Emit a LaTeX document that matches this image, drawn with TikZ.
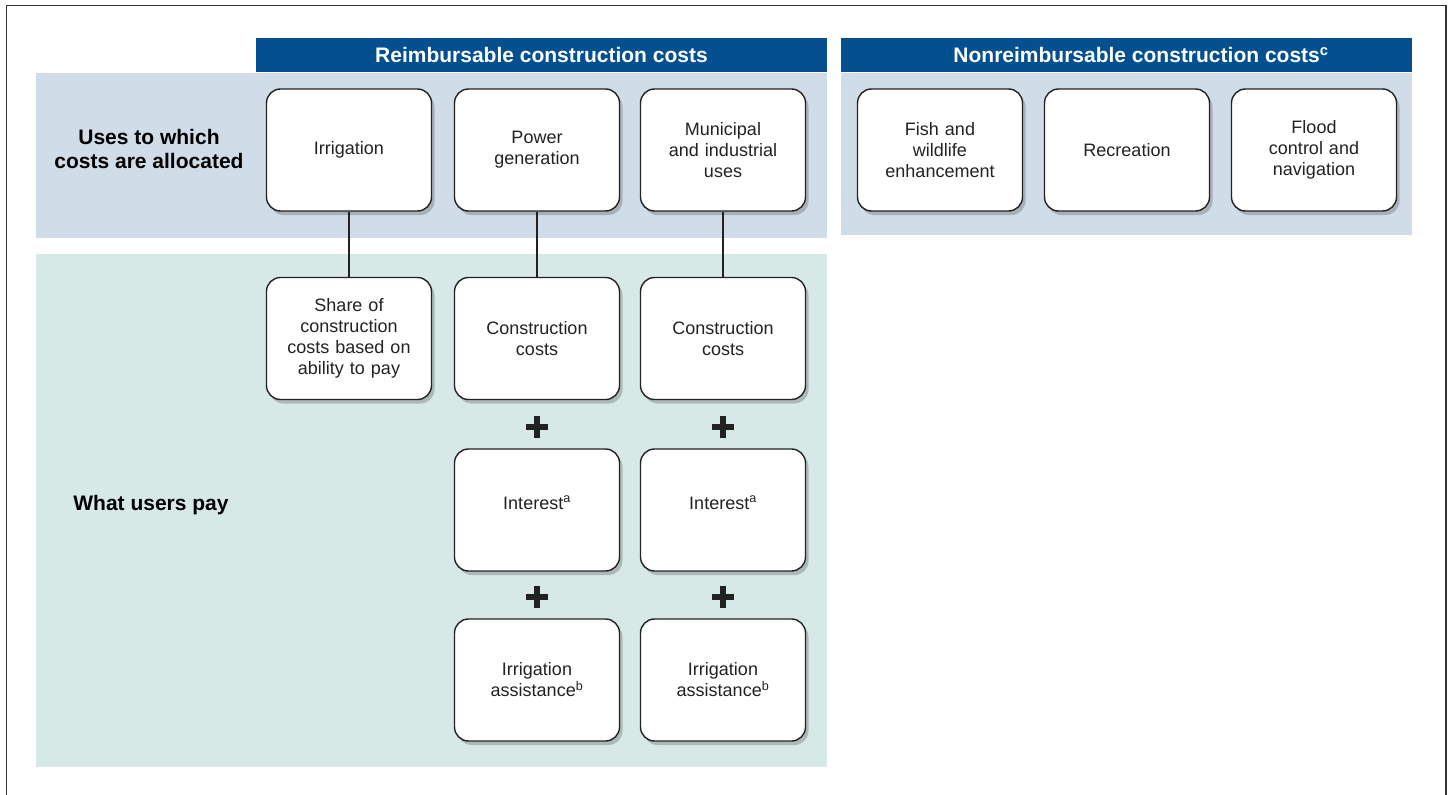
\documentclass[tikz,border=0pt]{standalone}
\usepackage{fontspec}
\setmainfont{Liberation Sans}
\usetikzlibrary{shadows}
\definecolor{headblue}{HTML}{034F8F}
\definecolor{bandblue}{HTML}{D0DCE8}
\definecolor{bandgreen}{HTML}{D6E9E7}
\definecolor{edge}{HTML}{222222}
\tikzset{
  costbox/.style={draw=edge, line width=1.4pt, fill=white, rounded corners=14pt,
    minimum width=165pt, minimum height=122pt, text width=152pt, align=center,
    text=edge, font=\fontsize{18}{21}\selectfont,
    drop shadow={shadow xshift=3pt, shadow yshift=-4pt, opacity=.3, fill=black!70}},
  header/.style={fill=headblue, text=white, minimum height=34pt,
    inner sep=0pt, font=\fontsize{21}{24}\selectfont\bfseries},
  rowlabel/.style={align=center, font=\fontsize{21}{24}\selectfont\bfseries},
  plussign/.style={minimum size=22pt, inner sep=0pt,
    path picture={\draw[line width=5.8pt, edge]
      (path picture bounding box.west) -- (path picture bounding box.east)
      (path picture bounding box.north) -- (path picture bounding box.south);}},
  link/.style={line width=1.8pt, edge}
}
\begin{document}
\begin{tikzpicture}[x=1pt, y=-1pt]
\useasboundingbox (0,0) rectangle (1449,795);
% frame
\draw[line width=1.5pt, black!80] (6.5,795) -- (6.5,5.5) -- (1446,5.5) -- (1446,795);
% bands
\fill[bandblue] (36,73) rectangle (827,238);
\fill[bandblue] (841,73) rectangle (1412,235);
\fill[bandgreen] (36,254) rectangle (827,767);
% headers
\fill[headblue] (256,38) rectangle (827,72);
\fill[headblue] (841,38) rectangle (1412,72);
\node[header] (reimb) at (541.5,55) {Reimbursable construction costs};
\node[header] (nonreimb) at (1141,55) {Nonreimbursable construction costs\textsuperscript{c}};
% row labels
\node[rowlabel] (useslbl) at (149,149) {Uses to which\\costs are allocated};
\node[rowlabel] (paylbl) at (151,505) {What users pay};
% uses
\node[costbox] (irr) at (349,150) {Irrigation};
\node[costbox] (pow) at (537,150) {Power\\generation};
\node[costbox] (mun) at (723,150) {Municipal\\and industrial\\uses};
\node[costbox] (fish) at (940,150) {Fish and\\wildlife\\enhancement};
\node[costbox] (rec) at (1127,150) {Recreation};
\node[costbox] (flood) at (1314,150) {Flood\\control and\\navigation};
% what users pay
\node[costbox] (share) at (349,338.5) {Share of\\construction\\costs based on\\ability to pay};
\node[costbox] (conpow) at (537,338.5) {Construction\\costs};
\node[costbox] (conmun) at (723,338.5) {Construction\\costs};
\node[costbox] (intpow) at (537,510) {Interest\textsuperscript{a}\\[-6pt]\mbox{}};
\node[costbox] (intmun) at (723,510) {Interest\textsuperscript{a}\\[-6pt]\mbox{}};
\node[costbox] (asspow) at (537,680) {Irrigation\\assistance\textsuperscript{b}};
\node[costbox] (assmun) at (723,680) {Irrigation\\assistance\textsuperscript{b}};
% plus signs
\node[plussign] (plus1) at (537,427) {};
\node[plussign] (plus2) at (723,427) {};
\node[plussign] (plus3) at (537,597) {};
\node[plussign] (plus4) at (723,597) {};
% links
\draw[link] (irr.south) -- (share.north);
\draw[link] (pow.south) -- (conpow.north);
\draw[link] (mun.south) -- (conmun.north);
\end{tikzpicture}
\end{document}
